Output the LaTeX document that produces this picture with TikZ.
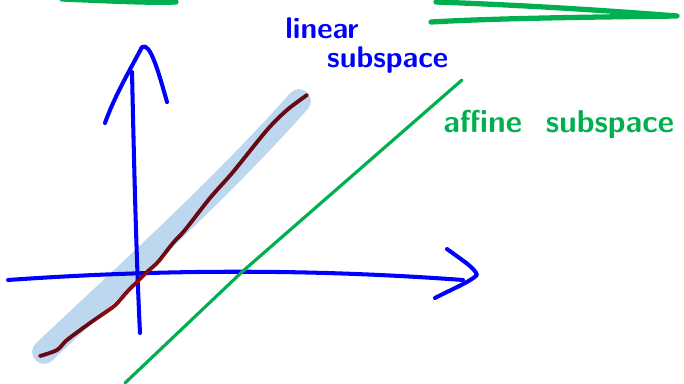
\documentclass[tikz,border=0pt]{standalone}
\usepackage{tikz}
\usetikzlibrary{positioning}
\usepackage{xcolor}
\definecolor{penblue}{RGB}{0,0,255}
\definecolor{pengreen}{RGB}{0,176,80}
\definecolor{penred}{RGB}{139,10,20}
\definecolor{marker}{RGB}{189,215,238}

\begin{document}
\begin{tikzpicture}[x=0.02cm, y=-0.02cm, line cap=round, line join=round,
  axis/.style={penblue, line width=2.3pt},
  affine/.style={pengreen, line width=1.8pt},
  scribble/.style={pengreen, line width=3pt},
  band/.style={marker, line width=13.5pt, blend mode=multiply},
  lbl/.style={font=\sffamily\bfseries\fontsize{17}{17}\selectfont, inner sep=0pt, anchor=base west}
]
  \useasboundingbox (0,0) rectangle (684,383);

  % leftovers of earlier strokes at the top
  \draw[scribble] (62,-1) .. controls (110,1) and (150,3) .. (176,2);
  \draw[scribble] (436,2) .. controls (520,5) and (600,10) .. (677,16)
    .. controls (600,17) and (500,18) .. (431,22);

  % axes
  \draw[axis] (8,280) .. controls (150,270) and (300,268) .. (463,280);
  \draw[axis] (447,249) .. controls (462,260) and (475,268) .. (477,275)
    .. controls (470,282) and (450,290) .. (435,298);
  \draw[axis] (132,72) .. controls (134,160) and (136,250) .. (140,333);
  \draw[axis] (105,123) .. controls (115,95) and (130,70) .. (142,47)
    .. controls (150,42) and (158,70) .. (167,102);

  % affine subspace
  \draw[affine] (125,383) -- (243,271) -- (462,80);

  % linear subspace
  \draw[penred, line width=2.2pt] plot[smooth, tension=0.5] coordinates {
    (40,356) (57,350) (67,340) (90,323) (113,307) (120,300) (127,292)
    (137,282) (147,272) (158,262) (173,243) (185,230) (210,198)
    (233,172) (267,130) (287,110) (307,95)};
  \draw[band] (44,352) .. controls (120,280) and (220,190) .. (299,101);

  % labels
  \node[lbl, penblue, align=left] (linlabel) at (285,67)
    {linear\\[-1pt]\hspace*{1.4em}subspace};
  \node[lbl, pengreen, font=\sffamily\bfseries\fontsize{18}{22}\selectfont] (afflabel) at (443,132)
    {affine\hspace{0.75em}subspace};
\end{tikzpicture}
\end{document}
